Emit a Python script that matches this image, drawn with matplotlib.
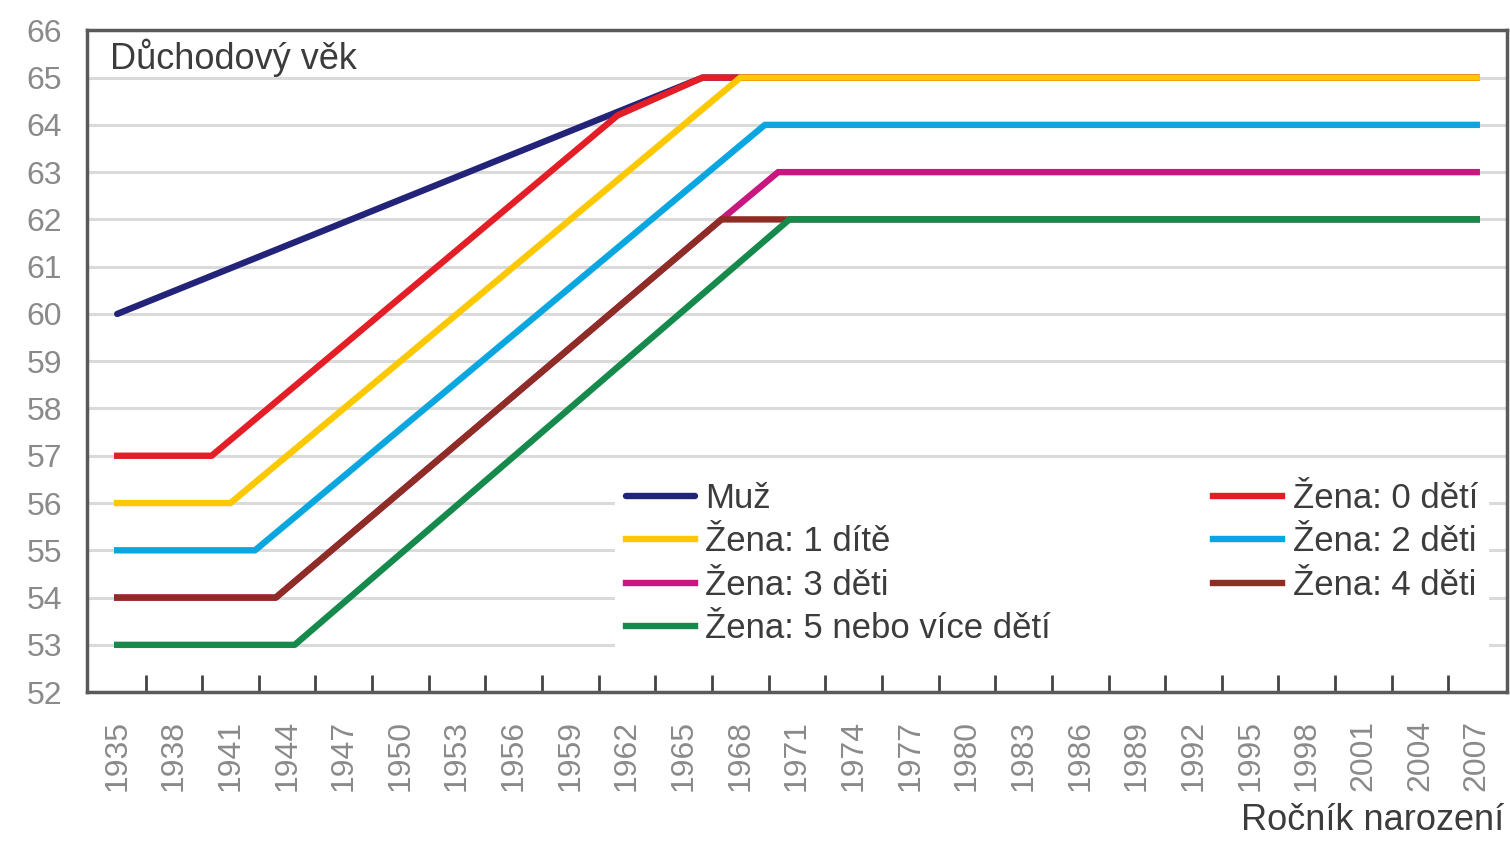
import numpy as np
import matplotlib.pyplot as plt
from matplotlib.ticker import MultipleLocator

plt.rcParams['font.family'] = ['Liberation Sans', 'DejaVu Sans']

# birth year breakpoints and retirement age for each group
muz_x = [1935, 1966, 2007]
muz_y = [60, 65, 65]
z0_x = [1935, 1940, 1961.5, 1966, 2007]
z0_y = [57, 57, 64.2, 65, 65]
z1_x = [1935, 1941, 1968, 2007]
z1_y = [56, 56, 65, 65]
z2_x = [1935, 1942.3, 1969.3, 2007]
z2_y = [55, 55, 64, 64]
z3_x = [1935, 1943.4, 1967, 1970, 2007]
z3_y = [54, 54, 62, 63, 63]
z4_x = [1935, 1943.4, 1967, 2007]
z4_y = [54, 54, 62, 62]
z5_x = [1935, 1944.4, 1970.6, 2007]
z5_y = [53, 53, 62, 62]

years = list(range(1935, 2008, 3))

fig = plt.figure(figsize=(15.1, 8.42), dpi=100)
ax = fig.add_axes([0.0576, 0.178, 0.9404, 0.786])

lw = 4.6
h_muz, = ax.plot(muz_x, muz_y, color='#23237a', lw=lw, zorder=2, solid_capstyle='round', label='Muž')
h_z0, = ax.plot(z0_x, z0_y, color='#e41e26', lw=lw, zorder=3, label='Žena: 0 dětí')
h_z1, = ax.plot(z1_x, z1_y, color='#fcc800', lw=lw, zorder=4, label='Žena: 1 dítě')
h_z2, = ax.plot(z2_x, z2_y, color='#0aa6e0', lw=lw, zorder=4, label='Žena: 2 děti')
h_z3, = ax.plot(z3_x, z3_y, color='#c8177f', lw=lw, zorder=3, label='Žena: 3 děti')
h_z4, = ax.plot(z4_x, z4_y, color='#8e2d25', lw=lw, zorder=4, label='Žena: 4 děti')
h_z5, = ax.plot(z5_x, z5_y, color='#158a4c', lw=lw, zorder=5, label='Žena: 5 nebo více dětí')

ax.set_xlim(1933.4, 2008.6)
ax.set_ylim(52, 65.95)
ax.set_yticks(range(52, 66 + 1))
ax.set_xticks(years)
ax.set_xticklabels([str(y) for y in years], rotation=90)
ax.set_xticks([x for x in np.arange(1936.5, 2006, 3)], minor=True)
ax.tick_params(axis='x', which='major', length=0, pad=20, labelsize=23, labelcolor='#8a8a8a')
ax.tick_params(axis='x', which='minor', direction='in', length=12, width=2, color='#444444')
ax.tick_params(axis='y', length=0, pad=18, labelsize=23, labelcolor='#8a8a8a')

ax.grid(axis='y', color='#dadada', lw=2.2, zorder=0)
for s in ax.spines.values():
    s.set_color('#5a5a5a')
    s.set_linewidth(2.5)

ax.text(0.016, 0.987, 'Důchodový věk', transform=ax.transAxes, fontsize=26,
        color='#3c3c3c', va='top', ha='left')
fig.text(0.996, 0.005, 'Ročník narození', fontsize=26, color='#3c3c3c', ha='right', va='bottom')

handles = [h_muz, h_z1, h_z3, h_z5, h_z0, h_z2, h_z4]
leg = ax.legend(handles=handles, ncol=2, loc='lower left', mode='expand',
                bbox_to_anchor=(0.372, 0.055, 0.615, 0.28), fontsize=25,
                frameon=True, facecolor='white', edgecolor='none', framealpha=1,
                handlelength=2.0, handletextpad=0.3, labelspacing=0.3,
                borderaxespad=0, borderpad=0.3)
for t in leg.get_texts():
    t.set_color('#3c3c3c')
leg.set_zorder(6)

fig.savefig('out.png', dpi=100)
